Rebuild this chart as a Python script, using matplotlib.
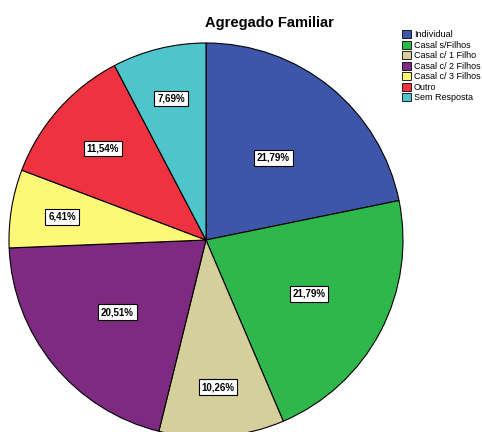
import numpy as np
import matplotlib.pyplot as plt
from matplotlib.patches import Patch

plt.rcParams['font.family'] = ['Liberation Sans', 'DejaVu Sans']

categories = ['Individual', 'Casal s/Filhos', 'Casal c/ 1 Filho', 'Casal c/ 2 Filhos',
              'Casal c/ 3 Filhos', 'Outro', 'Sem Resposta']
percent = [21.79, 21.79, 10.26, 20.51, 6.41, 11.54, 7.69]
labels = ['21,79%', '21,79%', '10,26%', '20,51%', '6,41%', '11,54%', '7,69%']

colors = ['#3D56AA', '#2EB84B', '#D4CF9B', '#7D2A80', '#FDF976', '#EE3240', '#4EC5CA']
# radial position of each label, as a fraction of the radius
label_r = [0.54, 0.59, 0.75, 0.58, 0.74, 0.70, 0.74]

fig = plt.figure(figsize=(4.82, 4.32), dpi=100)
ax = fig.add_axes([0, 0, 1, 1])

cx, cy, r = 206, 192, 197
wedges, _ = ax.pie(percent, colors=colors, startangle=90, counterclock=False,
                   center=(cx, cy), radius=r, frame=True,
                   wedgeprops=dict(edgecolor='black', linewidth=0.8))
ax.set_xlim(0, 482)
ax.set_ylim(0, 432)
ax.set_aspect('equal')
ax.axis('off')

for w, lab, lr in zip(wedges, labels, label_r):
    ang = np.deg2rad((w.theta1 + w.theta2) / 2)
    ax.text(cx + lr * r * np.cos(ang), cy + lr * r * np.sin(ang), lab,
            ha='center', va='center', fontsize=7, fontweight='bold',
            bbox=dict(boxstyle='square,pad=0.3', facecolor='white',
                      edgecolor='black', linewidth=0.8))

fig.text(0.56, 0.947, 'Agregado Familiar', ha='center', va='center',
         fontsize=10.5, fontweight='bold')

handles = [Patch(facecolor=c, edgecolor='black', linewidth=0.6) for c in colors]
fig.legend(handles, categories, loc='upper left', bbox_to_anchor=(0.834, 0.93),
           frameon=False, fontsize=6.5, handlelength=1.0, handleheight=1.0,
           handletextpad=0.3, labelspacing=0.15, borderaxespad=0, borderpad=0)

fig.savefig('out.png', dpi=100)
